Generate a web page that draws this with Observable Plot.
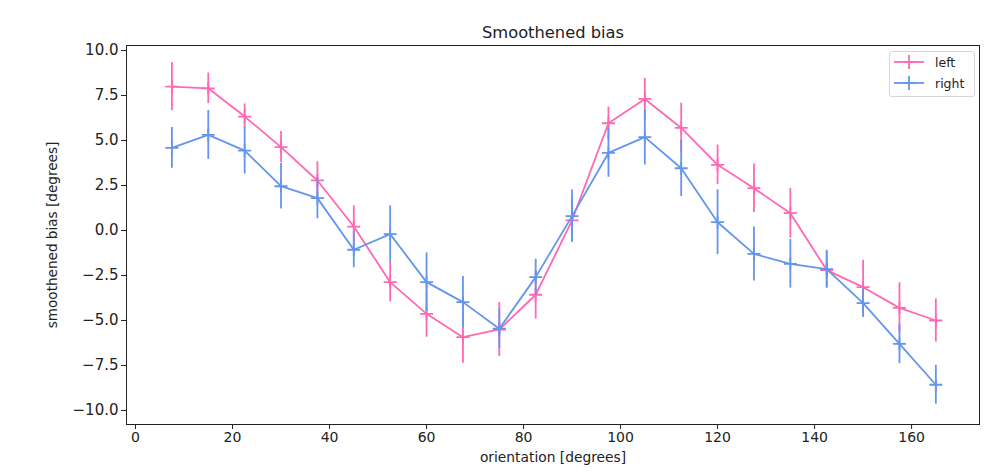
<!DOCTYPE html>
<html>
<head>
<meta charset="utf-8">
<script src="https://cdn.jsdelivr.net/npm/d3@7"></script>
<script src="https://cdn.jsdelivr.net/npm/@observablehq/plot@0.6"></script>
<style>
  html, body { margin: 0; padding: 0; background: #fff; }
  #wrap { position: relative; width: 985px; height: 471px; font-family: "DejaVu Sans", sans-serif; }
  .legend { position: absolute; left: 889px; top: 51px; width: 84px; height: 44px; border: 1px solid #d6d6d6; border-radius: 3px; background: rgba(255,255,255,0.8); font-size: 12.5px; color: #222; }
  .legend .row { position: absolute; left: 4px; height: 20px; display: flex; align-items: center; }
  .legend svg { display: block; }
  .legend span { margin-left: 11px; }
</style>
</head>
<body>
<div id="wrap"></div>
<script>
const orientation = [7.5, 15, 22.5, 30, 37.5, 45, 52.5, 60, 67.5, 75, 82.5, 90, 97.5, 105, 112.5, 120, 127.5, 135, 142.5, 150, 157.5, 165];
const leftMean = [8.0, 7.9, 6.33, 4.63, 2.78, 0.22, -2.87, -4.63, -5.93, -5.5, -3.57, 0.56, 5.96, 7.31, 5.7, 3.65, 2.35, 0.96, -2.2, -3.15, -4.3, -5.0];
const leftErr = [1.33, 0.85, 0.7, 0.87, 1.05, 1.15, 1.1, 1.3, 1.45, 1.5, 1.35, 1.2, 0.9, 1.15, 1.37, 1.1, 1.35, 1.38, 1.0, 1.5, 1.4, 1.2];
const rightMean = [4.59, 5.31, 4.44, 2.46, 1.8, -1.07, -0.2, -2.87, -3.98, -5.46, -2.59, 0.8, 4.31, 5.19, 3.46, 0.46, -1.3, -1.85, -2.15, -4.04, -6.3, -8.57];
const rightErr = [1.13, 1.36, 1.3, 1.26, 1.15, 1.0, 1.57, 1.63, 1.42, 1.1, 1.0, 1.45, 1.35, 1.55, 1.57, 1.8, 1.5, 1.35, 1.05, 0.8, 1.1, 1.08];
const seriesNames = ["left", "right"];
const seriesColors = ["#ff69b4", "#6495ed"];
const yTicks = [-10, -7.5, -5, -2.5, 0, 2.5, 5, 7.5, 10];
const xTicks = [0, 20, 40, 60, 80, 100, 120, 140, 160];
const titleText = "Smoothened bias";
const xLabel = "orientation [degrees]";
const yLabel = "smoothened bias [degrees]";

const rows = [];
orientation.forEach((x, i) => {
  rows.push({series: "left", x, y: leftMean[i], e: leftErr[i]});
});
orientation.forEach((x, i) => {
  rows.push({series: "right", x, y: rightMean[i], e: rightErr[i]});
});

const plusSymbol = {
  draw(ctx, size) {
    const r = Math.sqrt(size / Math.PI);
    ctx.moveTo(-r, 0); ctx.lineTo(r, 0);
    ctx.moveTo(0, -r); ctx.lineTo(0, r);
  }
};

const marks = [];
seriesNames.forEach((name, k) => {
  const d = rows.filter(r => r.series === name);
  const c = seriesColors[k];
  marks.push(Plot.ruleX(d, {x: "x", y1: r => r.y - r.e, y2: r => r.y + r.e, stroke: c, strokeWidth: 1.8}));
  marks.push(Plot.line(d, {x: "x", y: "y", stroke: c, strokeWidth: 1.8}));
  marks.push(Plot.dot(d, {x: "x", y: "y", symbol: plusSymbol, r: 6.5, stroke: c, strokeWidth: 1.8, fill: "none"}));
});

const chart = Plot.plot({
  width: 985,
  height: 471,
  marginTop: 45,
  marginBottom: 47,
  marginLeft: 126,
  marginRight: 6,
  style: {fontFamily: "DejaVu Sans, sans-serif", background: "white", color: "#222", overflow: "visible"},
  x: {domain: [-1.86, 174.0], ticks: xTicks, tickFormat: d3.format("d"), label: null},
  y: {domain: [-10.78, 10.28], ticks: yTicks, tickFormat: d3.format(".1f"), label: null},
  marks: [
    Plot.axisX({ticks: xTicks, tickFormat: d3.format("d"), tickSize: 5, tickPadding: 3, fontSize: 14, label: null, stroke: "#222"}),
    Plot.axisY({ticks: yTicks, tickFormat: d3.format(".1f"), tickSize: 5, tickPadding: 3, fontSize: 15, label: null, stroke: "#222"}),
    ...marks,
    Plot.frame({stroke: "#222", strokeWidth: 1}),
    Plot.text([titleText], {frameAnchor: "top", dy: -19, fontSize: 16.3, fill: "#222"}),
    Plot.text([xLabel], {frameAnchor: "bottom", dy: 37, fontSize: 13.8, fill: "#222"}),
    Plot.text([yLabel], {frameAnchor: "left", textAnchor: "middle", dx: -74, rotate: -90, fontSize: 13.6, fill: "#222"})
  ]
});

const wrap = document.getElementById("wrap");
wrap.appendChild(chart);

const legend = document.createElement("div");
legend.className = "legend";
seriesNames.forEach((name, k) => {
  const row = document.createElement("div");
  row.className = "row";
  row.style.top = (k * 21) + "px";
  const c = seriesColors[k];
  row.innerHTML = `<svg width="30" height="16"><line x1="0" y1="8" x2="30" y2="8" stroke="${c}" stroke-width="1.8"/><line x1="15" y1="1" x2="15" y2="15" stroke="${c}" stroke-width="1.8"/><line x1="9" y1="8" x2="21" y2="8" stroke="${c}" stroke-width="1.8"/></svg><span>${name}</span>`;
  legend.appendChild(row);
});
wrap.appendChild(legend);
</script>
</body>
</html>
